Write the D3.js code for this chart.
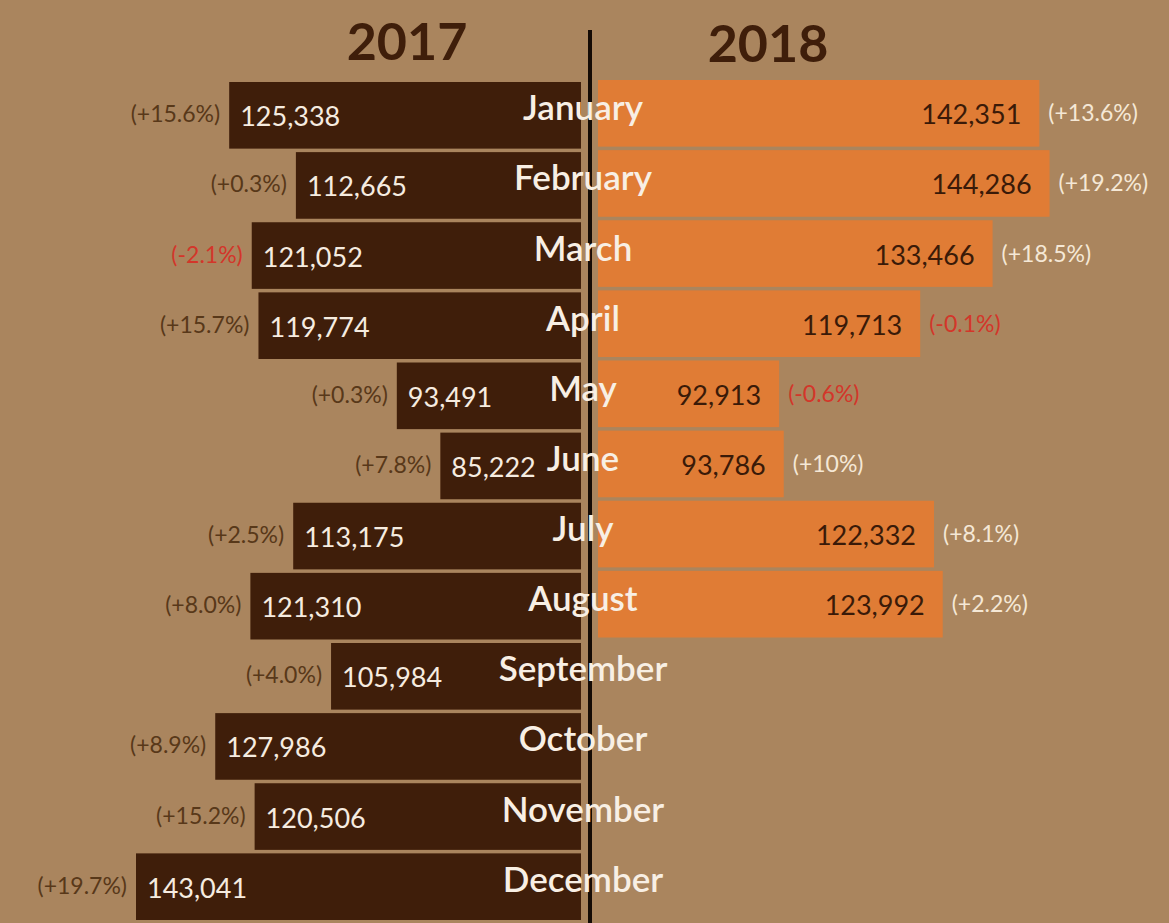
<!DOCTYPE html>
<html>
<head>
<meta charset="utf-8">
<script src="https://cdn.jsdelivr.net/npm/d3@7"></script>
<style>
  html, body { margin: 0; padding: 0; background: #aa855e; }
  svg { display: block; }
  text { font-family: Lato, "Open Sans", sans-serif; }
</style>
</head>
<body>
<div id="chart"></div>
<script>
// data
var months = ["January", "February", "March", "April", "May", "June",
    "July", "August", "September", "October", "November", "December"];
var sales2017 = [125338, 112665, 121052, 119774, 93491, 85222,
    113175, 121310, 105984, 127986, 120506, 143041];
var sales2018 = [142351, 144286, 133466, 119713, 92913, 93786, 122332, 123992];
var change2017 = ["+15.6%", "+0.3%", "-2.1%", "+15.7%", "+0.3%", "+7.8%",
    "+2.5%", "+8.0%", "+4.0%", "+8.9%", "+15.2%", "+19.7%"];
var change2018 = ["+13.6%", "+19.2%", "+18.5%", "-0.1%", "-0.6%", "+10%", "+8.1%", "+2.2%"];

var width = 1169;
var height = 923;
var centre = 590;
var leftEdge = 581;
var rightEdge = 598;

var svg = d3.select("#chart").
    append("svg").
    attr("width", width).
    attr("height", height);

// bar length scale (bars do not start at zero in the original)
var len = d3.scaleLinear().
    domain([58500, 143041]).
    range([0, 445]);

var y = d3.scaleBand().
    domain(months).
    range([82, 920]).
    paddingInner(0.05);

var fmt = d3.format(",");
var neg = function (s) { return s.charAt(0) == "-"; };

// 2017 side
var left = svg.append("g");
left.selectAll("rect").
    data(months).
    enter().
    append("rect").
    attr("x", function (d, i) { return leftEdge - len(sales2017[i]); }).
    attr("y", function (d) { return y(d); }).
    attr("width", function (d, i) { return len(sales2017[i]); }).
    attr("height", y.bandwidth()).
    attr("fill", "#3f1e0a");

left.selectAll("text.val").
    data(months).
    enter().
    append("text").
    attr("class", "val").
    attr("x", function (d, i) { return leftEdge - len(sales2017[i]) + 11; }).
    attr("y", function (d) { return y(d) + y.bandwidth() / 2 + 11; }).
    attr("font-size", 27).
    attr("fill", "#f6ece0").
    text(function (d, i) { return fmt(sales2017[i]); });

left.selectAll("text.pct").
    data(months).
    enter().
    append("text").
    attr("class", "pct").
    attr("x", function (d, i) { return leftEdge - len(sales2017[i]) - 9; }).
    attr("y", function (d) { return y(d) + y.bandwidth() / 2 + 7; }).
    attr("text-anchor", "end").
    attr("font-size", 23).
    attr("fill", function (d, i) { return neg(change2017[i]) ? "#d3362a" : "#583819"; }).
    text(function (d, i) { return "(" + change2017[i] + ")"; });

// 2018 side
var right = svg.append("g");
var m18 = months.slice(0, sales2018.length);

right.selectAll("rect").
    data(m18).
    enter().
    append("rect").
    attr("x", rightEdge).
    attr("y", function (d) { return y(d) - 2; }).
    attr("width", function (d, i) { return len(sales2018[i]); }).
    attr("height", y.bandwidth()).
    attr("fill", "#e07c35");

right.selectAll("text.val").
    data(m18).
    enter().
    append("text").
    attr("class", "val").
    attr("x", function (d, i) { return rightEdge + len(sales2018[i]) - 18; }).
    attr("y", function (d) { return y(d) + y.bandwidth() / 2 + 9; }).
    attr("text-anchor", "end").
    attr("font-size", 27).
    attr("fill", "#3a1a08").
    text(function (d, i) { return fmt(sales2018[i]); });

right.selectAll("text.pct").
    data(m18).
    enter().
    append("text").
    attr("class", "pct").
    attr("x", function (d, i) { return rightEdge + len(sales2018[i]) + 9; }).
    attr("y", function (d) { return y(d) + y.bandwidth() / 2 + 6; }).
    attr("font-size", 23).
    attr("fill", function (d, i) { return neg(change2018[i]) ? "#d3362a" : "#f5e8d6"; }).
    text(function (d, i) { return "(" + change2018[i] + ")"; });

// centre line
svg.append("line").
    attr("x1", centre).
    attr("x2", centre).
    attr("y1", 30).
    attr("y2", height).
    attr("stroke", "#150b05").
    attr("stroke-width", 4);

// month names on top of the line
svg.selectAll("text.month").
    data(months).
    enter().
    append("text").
    attr("class", "month").
    attr("x", 583).
    attr("y", function (d) { return y(d) + y.bandwidth() / 2 + 5; }).
    attr("text-anchor", "middle").
    attr("font-size", 35).
    attr("font-weight", 600).
    attr("fill", "#f8efe4").
    text(function (d) { return d; });

// year titles
svg.append("text").
    attr("x", 407).
    attr("y", 60).
    attr("text-anchor", "middle").
    attr("font-size", 52).
    attr("font-weight", "bold").
    attr("fill", "#3f1e0a").
    text("2017");

svg.append("text").
    attr("x", 768).
    attr("y", 62).
    attr("text-anchor", "middle").
    attr("font-size", 52).
    attr("font-weight", "bold").
    attr("fill", "#3f1e0a").
    text("2018");
</script>
</body>
</html>
